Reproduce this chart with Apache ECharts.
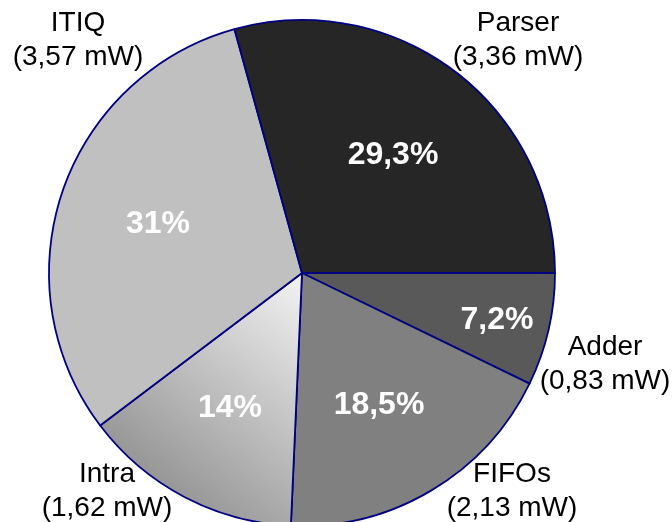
<!DOCTYPE html>
<html>
<head>
<meta charset="utf-8">
<script src="https://cdn.jsdelivr.net/npm/echarts@6/dist/echarts.min.js"></script>
<style>
  html, body { margin: 0; padding: 0; background: #ffffff; }
  #chart { width: 672px; height: 522px; }
</style>
</head>
<body>
<div id="chart"></div>
<script>
// Power breakdown per block, clockwise from 3 o'clock
const names = ['Adder', 'FIFOs', 'Intra', 'ITIQ', 'Parser'];
const shares = [7.2, 18.5, 14, 31, 29.3];          // percent of total power
const powerLabels = ['0,83 mW', '2,13 mW', '1,62 mW', '3,57 mW', '3,36 mW'];
const shareLabels = ['7,2%', '18,5%', '14%', '31%', '29,3%'];

// Label anchor points (px)
const innerPos = [[497, 320], [379, 405], [230, 408], [158, 224], [393, 155]];
const outerPos = [[605, 364], [512, 491], [107, 491], [78, 40], [518, 40]];

const sliceColors = [
  '#595959',
  '#808080',
  {
    type: 'linear', x: 1, y: 0, x2: 0, y2: 1,
    colorStops: [{ offset: 0, color: '#f4f4f4' }, { offset: 1, color: '#7c7c7c' }]
  },
  '#c0c0c0',
  '#262626'
];

const font = '"Liberation Sans", Arial, Helvetica, sans-serif';
const center = [302, 273];
const radius = 253;

const chart = echarts.init(document.getElementById('chart'), null, { renderer: 'canvas' });

chart.setOption({
  animation: false,
  backgroundColor: '#ffffff',
  series: [
    {
      type: 'pie',
      center: center,
      radius: radius,
      startAngle: 0,
      clockwise: true,
      avoidLabelOverlap: false,
      silent: true,
      data: names.map((n, i) => ({
        name: n,
        value: shares[i],
        itemStyle: { color: sliceColors[i] }
      })),
      itemStyle: { borderColor: '#000080', borderWidth: 1.8 },
      label: {
        show: true,
        position: 'inside',
        formatter: p => shareLabels[p.dataIndex],
        color: '#ffffff',
        fontFamily: font,
        fontWeight: 'bold',
        fontSize: 32
      },
      labelLine: { show: false },
      labelLayout: p => ({
        x: innerPos[p.dataIndex][0],
        y: innerPos[p.dataIndex][1],
        align: 'center',
        verticalAlign: 'middle'
      })
    },
    {
      type: 'pie',
      center: center,
      radius: radius,
      startAngle: 0,
      clockwise: true,
      avoidLabelOverlap: false,
      silent: true,
      z: 1,
      data: names.map((n, i) => ({ name: n, value: shares[i] })),
      itemStyle: { color: 'rgba(0,0,0,0)', borderWidth: 0 },
      label: {
        show: true,
        position: 'outside',
        formatter: p => p.name + '\n(' + powerLabels[p.dataIndex] + ')',
        color: '#000000',
        fontFamily: font,
        fontSize: 28,
        lineHeight: 34,
        align: 'center'
      },
      labelLine: { show: false },
      labelLayout: p => ({
        x: outerPos[p.dataIndex][0],
        y: outerPos[p.dataIndex][1],
        align: 'center',
        verticalAlign: 'middle'
      })
    }
  ]
});
</script>
</body>
</html>
